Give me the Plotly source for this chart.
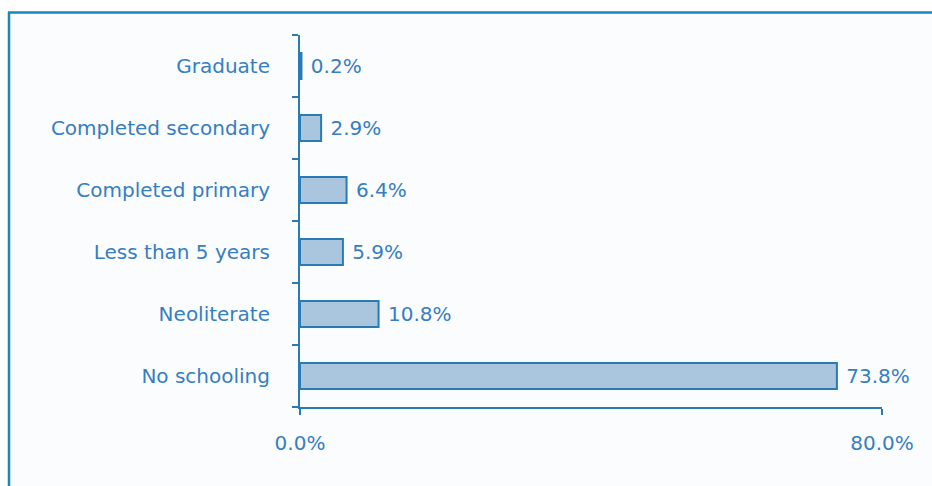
import plotly.graph_objects as go

categories = ["No schooling", "Neoliterate", "Less than 5 years",
              "Completed primary", "Completed secondary", "Graduate"]
shares = [73.8, 10.8, 5.9, 6.4, 2.9, 0.2]
x_ticks = [0, 80]
x_tick_labels = ["0.0%", "80.0%"]

TEXT = "#367ec2"
LINE = "#2a7bb4"
FILL = "#aac5de"
FONT = "DejaVu Sans"

# plot area in pixels (for placing the frame in paper coordinates)
L, R, T, B = 300, 882, 35, 407
W, H = 932, 486


def px(x):
    return (x - L) / (R - L)


def py(y):
    return (B - y) / (B - T)


fig = go.Figure(go.Bar(
    y=categories, x=shares, orientation="h",
    marker=dict(color=FILL, line=dict(color=LINE, width=2)),
    text=[f" {v:.1f}%" for v in shares], textposition="outside",
    textfont=dict(family=FONT, size=20, color=TEXT),
    cliponaxis=False, width=0.42,
))

fig.update_layout(
    width=W, height=H,
    margin=dict(l=L, r=W - R, t=T, b=H - B),
    paper_bgcolor="white", plot_bgcolor="rgba(0,0,0,0)",
    showlegend=False,
    shapes=[
        dict(type="rect", xref="paper", yref="paper", layer="below",
             x0=px(9), x1=px(W), y0=py(13), y1=py(H),
             fillcolor="#fafcfe", line=dict(width=0)),
        dict(type="line", xref="paper", yref="paper",
             x0=px(8), x1=px(W), y0=py(12.5), y1=py(12.5),
             line=dict(color="#1a86bb", width=2.5)),
        dict(type="line", xref="paper", yref="paper",
             x0=px(9), x1=px(9), y0=py(12), y1=py(H),
             line=dict(color="#1a86bb", width=2.5)),
    ],
)

fig.update_xaxes(
    range=[0, 80], tickvals=x_ticks, ticktext=x_tick_labels,
    showgrid=False, zeroline=False, showline=True,
    linecolor=LINE, linewidth=2,
    ticks="outside", ticklen=6, tickwidth=2, tickcolor=LINE,
    ticklabelstandoff=11,
    tickfont=dict(family=FONT, size=20, color=TEXT),
)
fig.update_yaxes(
    showgrid=False, zeroline=False, showline=True,
    linecolor=LINE, linewidth=2, tickson="boundaries",
    ticks="outside", ticklen=6, tickwidth=2, tickcolor=LINE,
    ticklabelstandoff=24,
    tickfont=dict(family=FONT, size=20, color=TEXT),
)

fig.write_html("out.html")
